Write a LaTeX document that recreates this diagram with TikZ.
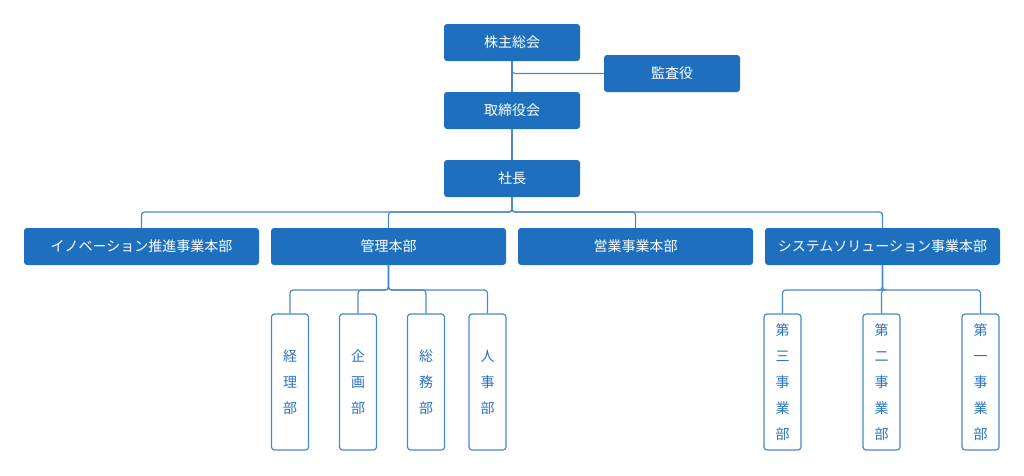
\documentclass[tikz,border=0pt]{standalone}
\usepackage{fontspec}
\setmainfont{Noto Sans CJK JP}
\begin{document}
\begin{tikzpicture}[x=1pt,y=-1pt,
  box/.style={draw=none,fill=blue1,rounded corners=3pt,text=white,font=\fontsize{14}{16}\selectfont,inner sep=0pt},
  vbox/.style={draw=line1,line width=1.2pt,fill=white,rounded corners=3pt,text=text1,font=\fontsize{14}{26}\selectfont,align=center,inner sep=0pt,minimum width=37pt,minimum height=136pt},
  conn/.style={draw=line1,line width=1.2pt,rounded corners=3pt}]
\definecolor{blue1}{HTML}{1E70BE}
\definecolor{line1}{HTML}{4A88C9}
\definecolor{text1}{HTML}{2A74C0}
\useasboundingbox (0,0) rectangle (1024,475);
\node[box,minimum width=136pt,minimum height=37pt] (kabu) at (512,42.5) {株主総会};
\node[box,minimum width=136pt,minimum height=37pt] (kansa) at (672,73.5) {監査役};
\node[box,minimum width=136pt,minimum height=37pt] (tori) at (512,110.5) {取締役会};
\node[box,minimum width=136pt,minimum height=37pt] (sha) at (512,178.5) {社長};
\node[box,minimum width=235pt,minimum height=37pt] (d1) at (141.5,246.5) {イノベーション推進事業本部};
\node[box,minimum width=235pt,minimum height=37pt] (d2) at (388.5,246.5) {管理本部};
\node[box,minimum width=235pt,minimum height=37pt] (d3) at (635.5,246.5) {営業事業本部};
\node[box,minimum width=235pt,minimum height=37pt] (d4) at (882.5,246.5) {システムソリューション事業本部};
\node[vbox] (k1) at (290,382) {経\\理\\部};
\node[vbox] (k2) at (358,382) {企\\画\\部};
\node[vbox] (k3) at (426,382) {総\\務\\部};
\node[vbox] (k4) at (487.5,382) {人\\事\\部};
\node[vbox] (s3) at (782.5,382) {第\\三\\事\\業\\部};
\node[vbox] (s2) at (881.5,382) {第\\二\\事\\業\\部};
\node[vbox] (s1) at (980.5,382) {第\\一\\事\\業\\部};
\coordinate (b1) at (512,212);
\coordinate (b2) at (388.5,290);
\coordinate (b3) at (882.5,290);
\draw[conn] (kabu.south) |- (kansa.west);
\draw[conn] (kabu.south) -- (tori.north);
\draw[conn] (tori.south) -- (sha.north);
\foreach \n in {d1,d2,d3,d4} \draw[conn] (sha.south) |- (b1 -| \n.north) -- (\n.north);
\foreach \n in {k1,k2,k3,k4} \draw[conn] (d2.south) |- (b2 -| \n.north) -- (\n.north);
\foreach \n in {s1,s2,s3} \draw[conn] (d4.south) |- (b3 -| \n.north) -- (\n.north);
\end{tikzpicture}
\end{document}
